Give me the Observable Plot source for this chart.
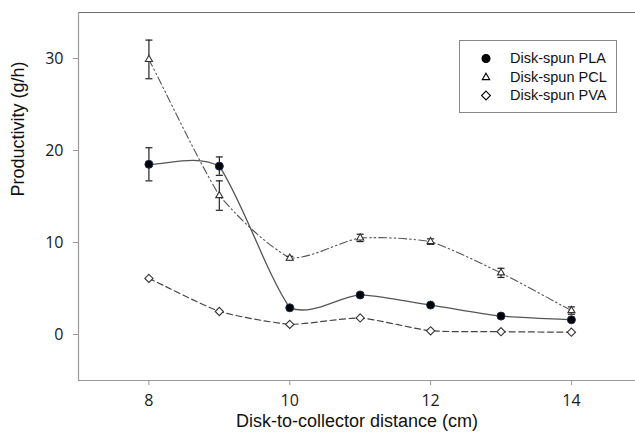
<!DOCTYPE html>
<html>
<head>
<meta charset="utf-8">
<script src="https://cdn.jsdelivr.net/npm/d3@7"></script>
<script src="https://cdn.jsdelivr.net/npm/@observablehq/plot@0.6"></script>
<style>
  body { margin: 0; background: #fff; }
  #wrap { position: relative; width: 635px; height: 436px; overflow: hidden; }
  #legend { position: absolute; left: 459px; top: 40px; width: 158px; height: 73px; border: 1px solid #888; box-sizing: border-box; font-family: "Liberation Sans", Arial, sans-serif; font-size: 14.5px; color: #111; background: #fff; }
  .row { position: absolute; left: 0; height: 20px; display: flex; align-items: center; white-space: nowrap; }
  .row svg { margin-left: 19px; margin-right: 17px; }
</style>
</head>
<body>
<div id="wrap"><div id="legend"></div></div>
<script>
const distance = [8, 9, 10, 11, 12, 13, 14];
const plaMean = [18.5, 18.3, 2.9, 4.3, 3.2, 2.0, 1.6];
const plaErr  = [1.8, 1.0, 0.1, 0.1, 0.1, 0.1, 0.1];
const pclMean = [29.9, 15.1, 8.3, 10.5, 10.1, 6.7, 2.6];
const pclErr  = [2.1, 1.6, 0.2, 0.4, 0.3, 0.5, 0.4];
const pvaMean = [6.1, 2.5, 1.1, 1.8, 0.4, 0.3, 0.25];
const seriesNames = ["Disk-spun PLA", "Disk-spun PCL", "Disk-spun PVA"];
const xTicks = [8, 10, 12, 14];
const yTicks = [0, 10, 20, 30];

const pla = distance.map((x, i) => ({x, y: plaMean[i], e: plaErr[i]}));
const pcl = distance.map((x, i) => ({x, y: pclMean[i], e: pclErr[i]}));
const pva = distance.map((x, i) => ({x, y: pvaMean[i]}));
const errs = [...pla.slice(0, 2), ...pcl];
const cap = 0.05;
const tickFont = "'Open Sans', 'DejaVu Sans', sans-serif";
const labelFont = "'Liberation Sans', Arial, sans-serif";

// Kochanek–Bartels style smoothing (continuity c) as a d3 curve factory
function kbCurve(c) {
  return function(context) {
    let pts = [];
    return {
      areaStart() {}, areaEnd() {},
      lineStart() { pts = []; },
      point(x, y) { pts.push([+x, +y]); },
      lineEnd() {
        const n = pts.length;
        if (!n) return;
        context.moveTo(pts[0][0], pts[0][1]);
        if (n === 1) return;
        const A = i => i > 0 ? [pts[i][0] - pts[i-1][0], pts[i][1] - pts[i-1][1]] : [0, 0];
        const B = i => i < n - 1 ? [pts[i+1][0] - pts[i][0], pts[i+1][1] - pts[i][1]] : [0, 0];
        const out = i => { const a = A(i), b = B(i); const ka = (1 - c) / 2, kb = (1 + c) / 2;
          return i === 0 ? [b[0] * kb, b[1] * kb] : [ka * a[0] + kb * b[0], ka * a[1] + kb * b[1]]; };
        const inn = i => { const a = A(i), b = B(i); const ka = (1 + c) / 2, kb = (1 - c) / 2;
          return i === n - 1 ? [a[0] * ka, a[1] * ka] : [ka * a[0] + kb * b[0], ka * a[1] + kb * b[1]]; };
        for (let i = 0; i < n - 1; i++) {
          const p = pts[i], q = pts[i+1], to = out(i), ti = inn(i + 1);
          context.bezierCurveTo(p[0] + to[0] / 3, p[1] + to[1] / 3, q[0] - ti[0] / 3, q[1] - ti[1] / 3, q[0], q[1]);
        }
      }
    };
  };
}
const smooth = kbCurve(0.5);

const chart = Plot.plot({
  width: 635,
  height: 436,
  marginLeft: 78,
  marginRight: 0,
  marginTop: 12,
  marginBottom: 56,
  style: {fontFamily: tickFont, fontSize: "16px", color: "#1a1a1a", background: "transparent"},
  x: {domain: [7, 14.91]},
  y: {domain: [-5, 35]},
  marks: [
    Plot.ruleY([35], {stroke: "#6a6a6a", strokeWidth: 1.2}),
    Plot.ruleY([-5], {stroke: "#999", strokeWidth: 1.2}),
    Plot.ruleX([7], {stroke: "#999", strokeWidth: 1.2}),
    Plot.axisY({ticks: yTicks, tickSize: 5, stroke: "#999", tickPadding: 10, label: null}),
    Plot.axisX({ticks: xTicks, tickSize: 5, stroke: "#999", tickPadding: 9, label: null}),
    Plot.lineY(pcl, {x: "x", y: "y", curve: smooth, stroke: "#555", strokeWidth: 1.1, strokeDasharray: "8,3,1.5,3,1.5,3"}),
    Plot.lineY(pva, {x: "x", y: "y", curve: smooth, stroke: "#444", strokeWidth: 1.2, strokeDasharray: "6,3.5"}),
    Plot.lineY(pla, {x: "x", y: "y", curve: smooth, stroke: "#555", strokeWidth: 1.3}),
    Plot.ruleX(errs, {x: "x", y1: d => d.y - d.e, y2: d => d.y + d.e, stroke: "#222", strokeWidth: 1.2}),
    Plot.link(errs, {x1: d => d.x - cap, x2: d => d.x + cap, y1: d => d.y + d.e, y2: d => d.y + d.e, stroke: "#222", strokeWidth: 1.2}),
    Plot.link(errs, {x1: d => d.x - cap, x2: d => d.x + cap, y1: d => d.y - d.e, y2: d => d.y - d.e, stroke: "#222", strokeWidth: 1.2}),
    Plot.dot(pva, {x: "x", y: "y", symbol: "diamond2", r: 3.7, fill: "#fff", stroke: "#333", strokeWidth: 1.1}),
    Plot.dot(pcl, {x: "x", y: "y", symbol: "triangle2", r: 3.4, fill: "#fff", stroke: "#333", strokeWidth: 1.1}),
    Plot.dot(pla, {x: "x", y: "y", symbol: "circle", r: 4, fill: "#000", stroke: "#1a2a50", strokeWidth: 1}),
    Plot.text(["Productivity (g/h)"], {frameAnchor: "left", dx: -60, rotate: -90, fontFamily: labelFont, fontSize: 18, fill: "#111"}),
    Plot.text(["Disk-to-collector distance (cm)"], {frameAnchor: "bottom", dy: 46, fontFamily: labelFont, fontSize: 18, fill: "#111"})
  ]
});
document.getElementById("wrap").prepend(chart);

// legend
const legend = d3.select("#legend");
const symbols = [d3.symbolCircle, d3.symbolTriangle2, d3.symbolDiamond2];
const fills = ["#000", "#fff", "#fff"];
const sizes = [50, 40, 50];
seriesNames.forEach((name, i) => {
  const row = legend.append("div").attr("class", "row").style("top", (7 + i * 18.7) + "px");
  const svg = row.append("svg").attr("width", 14).attr("height", 14);
  svg.append("path").attr("transform", "translate(7,7.5)")
    .attr("d", d3.symbol(symbols[i], sizes[i])())
    .attr("fill", fills[i]).attr("stroke", "#000").attr("stroke-width", 1.1);
  row.append("span").text(name);
});
</script>
</body>
</html>
